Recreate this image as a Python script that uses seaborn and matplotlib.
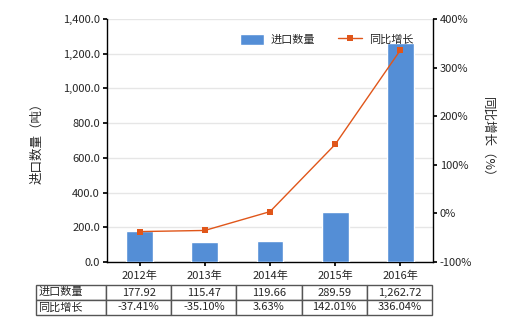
import matplotlib
matplotlib.use("Agg")
import matplotlib.pyplot as plt
import seaborn as sns
import pandas as pd
import numpy as np

years = ["2012年", "2013年", "2014年", "2015年", "2016年"]
qty = [177.92, 115.47, 119.66, 289.59, 1262.72]
growth = [-37.41, -35.10, 3.63, 142.01, 336.04]
qty_labels = ["177.92", "115.47", "119.66", "289.59", "1,262.72"]
growth_labels = ["-37.41%", "-35.10%", "3.63%", "142.01%", "336.04%"]

sns.set_theme(style="white")
plt.rcParams['font.family'] = ['Noto Sans CJK SC', 'DejaVu Sans']
plt.rcParams['axes.unicode_minus'] = False

W, H = 520, 330
fig = plt.figure(figsize=(W/100, H/100), dpi=100)
L, R, T, B = 107, 433, 19, 262
ax = fig.add_axes([L/W, 1-B/H, (R-L)/W, (B-T)/H])

df = pd.DataFrame({"year": years, "qty": qty, "growth": growth})
bar_color = "#548ed6"
line_color = "#e0561a"
sns.barplot(data=df, x="year", y="qty", ax=ax, color=bar_color, width=0.41,
            saturation=1, label="进口数量", zorder=3)
ax.set_ylim(0, 1400)
ax.set_yticks(np.arange(0, 1401, 200))
ax.set_yticklabels([f"{v:,.1f}" for v in np.arange(0, 1401, 200)], fontsize=8)
ax.set_xlim(-0.5, 4.5)
ax.set_xlabel("")
ax.set_ylabel("进口数量（吨）", fontsize=9, labelpad=14)
ax.tick_params(axis='x', labelsize=8, length=3, color='black', direction='out', bottom=True)
ax.tick_params(axis='y', length=3, color='black', direction='out', left=True, pad=2)
ax.grid(axis='y', color='#e6e6e6', linewidth=1, zorder=0)
for s in ["top", "right"]:
    ax.spines[s].set_visible(False)
for s in ["left", "bottom"]:
    ax.spines[s].set_color("black")
    ax.spines[s].set_linewidth(1)

ax2 = ax.twinx()
sns.lineplot(x=np.arange(len(years)), y=growth, ax=ax2, color=line_color, marker="s",
             markersize=5, markeredgewidth=0, linewidth=1, label="同比增长", zorder=4)
ax2.set_ylim(-100, 400)
ax2.set_yticks(np.arange(-100, 401, 100))
ax2.set_yticklabels([f"{v}%" for v in np.arange(-100, 401, 100)], fontsize=8)
ax2.set_ylabel("同比增长（%）", fontsize=9, rotation=270, labelpad=16)
ax2.tick_params(axis='y', length=3, color='black', direction='out', right=True, pad=2)
for s in ["top", "left", "bottom"]:
    ax2.spines[s].set_visible(False)
ax2.spines["right"].set_color("black")
ax2.spines["right"].set_linewidth(1)
ax2.grid(False)
if ax2.get_legend():
    ax2.get_legend().remove()
if ax.get_legend():
    ax.get_legend().remove()

h1, l1 = ax.get_legend_handles_labels()
h2, l2 = ax2.get_legend_handles_labels()
ax2.legend(h1 + h2, l1 + l2, loc="upper right", bbox_to_anchor=(0.97, 0.98), ncol=2,
           frameon=False, fontsize=8, handlelength=2.2, handleheight=1.1,
           columnspacing=2.0, handletextpad=0.6)

# table
tx0, tx1 = 36, 432
ty0, ty1 = 285, 315
tab_ax = fig.add_axes([tx0/W, 1-ty1/H, (tx1-tx0)/W, (ty1-ty0)/H])
tab_ax.axis("off")
cells = [["进口数量"] + qty_labels, ["同比增长"] + growth_labels]
first_w = 70 / (tx1 - tx0)
other_w = (1 - first_w) / 5
tbl = tab_ax.table(cellText=cells, colWidths=[first_w] + [other_w]*5,
                   bbox=[0, 0, 1, 1], cellLoc="center")
tbl.auto_set_font_size(False)
for (r, c), cell in tbl.get_celld().items():
    cell.set_fontsize(8)
    cell.set_edgecolor("#555555")
    cell.set_linewidth(1)
    if c == 0:
        cell.set_text_props(ha="left")
        cell.PAD = 0.03

fig.savefig("out.png", dpi=100)
